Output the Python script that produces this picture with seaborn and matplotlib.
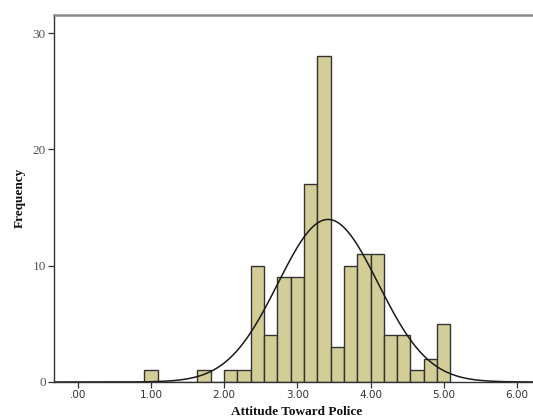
import numpy as np
import pandas as pd
import matplotlib
matplotlib.use("Agg")
import matplotlib.pyplot as plt
import seaborn as sns

# ---- data ----
bin_centers = [1.000, 1.727, 2.091, 2.273, 2.455, 2.636, 2.818, 3.000, 3.182,
               3.364, 3.545, 3.727, 3.909, 4.091, 4.273, 4.455, 4.636, 4.818, 5.000]
counts = [1, 1, 1, 1, 10, 4, 9, 9, 17, 28, 3, 10, 11, 11, 4, 4, 1, 2, 5]
bin_width = 2 / 11
curve_mean = 3.42
curve_sd = 0.685
x_ticks = [0, 1, 2, 3, 4, 5, 6]
x_tick_labels = [".00", "1.00", "2.00", "3.00", "4.00", "5.00", "6.00"]
y_ticks = [0, 10, 20, 30]
x_label = "Attitude Toward Police"
y_label = "Frequency"

df = pd.DataFrame({"value": bin_centers, "count": counts})

sns.set_theme(style="white")
plt.rcParams["font.family"] = ["DejaVu Sans"]

fig = plt.figure(figsize=(5.33, 4.2), dpi=100)
ax = fig.add_axes([54 / 533, 38 / 420, (533 - 54) / 533 + 0.01, (382 - 14.5) / 420])

lo = bin_centers[0] - bin_width / 2
hi = bin_centers[-1] + bin_width / 2
sns.histplot(data=df, x="value", weights="count", binwidth=bin_width,
             binrange=(lo, hi), color="#D3CE97", alpha=1.0,
             edgecolor="#333333", linewidth=1.0, ax=ax)

n_total = sum(counts)
xs = np.linspace(-0.4, 6.5, 600)
ys = n_total * bin_width * np.exp(-0.5 * ((xs - curve_mean) / curve_sd) ** 2) / (curve_sd * np.sqrt(2 * np.pi))
sns.lineplot(x=xs, y=ys, color="#1a1a1a", linewidth=1.1, ax=ax)

ax.set_xlim(-0.324, 6.22 + 0.01 * 533 / 73.2)
ax.set_ylim(0, 31.6)

ax.set_xticks(x_ticks)
ax.set_xticklabels(x_tick_labels, fontsize=7.5, color="#333333", family="DejaVu Sans")
ax.set_yticks(y_ticks)
ax.set_yticklabels([str(v) for v in y_ticks], fontsize=9.5, color="#555555",
                   family="Liberation Serif")

ax.tick_params(axis="both", direction="out", length=4, width=0.9, color="#333333",
               bottom=True, left=True, pad=2)

ax.set_xlabel(x_label, fontsize=9.5, fontweight="bold", family="Liberation Serif",
              color="#111111", labelpad=4)
ax.set_ylabel(y_label, fontsize=9.5, fontweight="bold", family="Liberation Serif",
              color="#111111", labelpad=5)

for s in ["left", "bottom"]:
    ax.spines[s].set_color("#333333")
    ax.spines[s].set_linewidth(1.0)
ax.spines["top"].set_color("#8a8a8a")
ax.spines["top"].set_linewidth(1.8)
ax.spines["right"].set_visible(False)

fig.savefig("out.png", dpi=100)
